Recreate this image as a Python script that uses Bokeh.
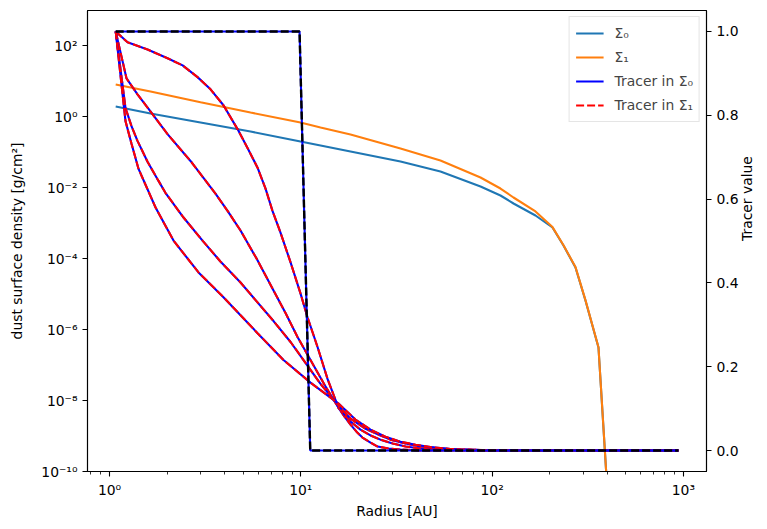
import math
from bokeh.plotting import figure
from bokeh.models import (Range1d, LinearAxis, LinearScale, FixedTicker, CustomJSTickFormatter,
                          PrintfTickFormatter, Legend, LegendItem)
from bokeh.embed import file_html
from bokeh.resources import INLINE

FONT = "DejaVu Sans"
FS = "13.9px"

# Dust surface density profiles [g/cm^2] against radius [AU]
r_sigma = [1.077, 1.638, 2.99, 5.46, 9.96, 12.68, 18.19, 33.2, 53.7, 87.0, 110.6, 129.4,
           168.6, 206.9, 236.2, 272.9, 307.7, 359.9, 411.0]
sigma0 = [1.96, 1.245, 0.695, 0.387, 0.2021, 0.156, 0.1056, 0.0552, 0.0288, 0.01089, 0.006066,
          0.00361, 0.001655, 7.59e-4, 2.36e-4, 5.65e-5, 6.63e-6, 3.13e-7, 3e-12]
sigma1 = [8.19, 5.195, 2.59, 1.329, 0.694, 0.502, 0.3185, 0.128, 0.0589, 0.01953, 0.00955,
          0.00533, 0.00215, 7.8e-4, 2.4e-4, 5.8e-5, 6.8e-6, 3.2e-7, 3e-12]

# Initial tracer: a step at ~10 AU
r_init = [1.077, 9.85, 11.2, 942.0]
t_init = [1.0, 1.0, 0.0, 0.0]

# Tracer snapshots (same values in both dust populations)
r_t1 = [1.077, 1.242, 1.58, 2.01, 2.41, 2.884, 3.373, 3.94, 4.67, 5.265, 5.94, 6.54, 7.11, 7.83,
        8.84, 9.96, 10.84, 12.23, 13.79, 15.74, 16.92, 18.19, 19.55, 21.0, 23.14, 25.2, 28.73,
        33.2, 42.2, 942.0]
t_t1 = [1.0, 0.974, 0.957, 0.936, 0.919, 0.891, 0.862, 0.824, 0.767, 0.722, 0.675, 0.625, 0.572,
        0.520, 0.449, 0.375, 0.318, 0.247, 0.171, 0.102, 0.081, 0.062, 0.045, 0.031, 0.019,
        0.0095, 0.0048, 0.0024, 0.0, 0.0]

r_t2 = [1.077, 1.227, 1.40, 1.60, 2.01, 2.65, 3.58, 4.14, 4.84, 5.87, 7.20, 8.32, 9.61, 11.24,
        13.30, 15.74, 18.19, 20.5, 23.14, 26.1, 30.2, 35.3, 42.2, 53.7, 77.1, 942.0]
t_t2 = [1.0, 0.888, 0.850, 0.815, 0.755, 0.691, 0.613, 0.572, 0.525, 0.458, 0.382, 0.328, 0.271,
        0.216, 0.157, 0.102, 0.069, 0.050, 0.036, 0.026, 0.017, 0.0095, 0.0048, 0.0024, 0.0, 0.0]

r_t3 = [1.077, 1.212, 1.303, 1.40, 1.58, 1.80, 1.96, 2.437, 3.063, 3.80, 4.84, 5.80, 7.20, 8.84,
        10.33, 12.68, 15.74, 18.19, 21.8, 26.1, 29.4, 35.3, 42.2, 53.7, 68.4, 110.6, 942.0]
t_t3 = [1.0, 0.817, 0.774, 0.739, 0.689, 0.644, 0.615, 0.556, 0.501, 0.451, 0.401, 0.359, 0.309,
        0.259, 0.216, 0.159, 0.107, 0.076, 0.052, 0.036, 0.026, 0.017, 0.0095, 0.0048, 0.0024,
        0.0, 0.0]

r_t4 = [1.077, 1.212, 1.303, 1.418, 1.74, 2.16, 2.919, 3.94, 4.84, 5.94, 8.12, 11.24, 15.74,
        19.3, 23.14, 27.7, 33.2, 39.8, 47.6, 60.6, 87.0, 140.8, 942.0]
t_t4 = [1.0, 0.786, 0.732, 0.672, 0.580, 0.501, 0.425, 0.366, 0.323, 0.280, 0.216, 0.162, 0.112,
        0.074, 0.050, 0.033, 0.021, 0.014, 0.0083, 0.0036, 0.0012, 0.0, 0.0]

x_major = [1, 10, 100, 1000]
x_minor = [0.8, 0.9, 2, 3, 4, 5, 6, 7, 8, 9, 20, 30, 40, 50, 60, 70, 80, 90,
           200, 300, 400, 500, 600, 700, 800, 900]
y_major = [1e-10, 1e-8, 1e-6, 1e-4, 1e-2, 1e0, 1e2]
t_ticks = [0.0, 0.2, 0.4, 0.6, 0.8, 1.0]

p = figure(width=767, height=529, x_axis_type="log", y_axis_type="log",
           x_range=Range1d(0.767, 1321), y_range=Range1d(1e-10, 1e3),
           output_backend="svg", toolbar_location=None,
           min_border_left=87, min_border_right=61, min_border_top=10, min_border_bottom=58)
p.extra_y_ranges = {"tracer": Range1d(-0.05, 1.05)}
p.extra_y_scales = {"tracer": LinearScale()}
p.xgrid.visible = False
p.ygrid.visible = False
p.outline_line_color = "black"
p.outline_line_width = 1.1
p.background_fill_color = "white"
p.border_fill_color = "white"

sup_js = """
const e = Math.round(Math.log10(tick));
const sup = {"-": "\u207b", "0": "\u2070", "1": "\u00b9", "2": "\u00b2", "3": "\u00b3",
             "4": "\u2074", "5": "\u2075", "6": "\u2076", "7": "\u2077", "8": "\u2078", "9": "\u2079"};
return "10" + String(e).split("").map(c => sup[c]).join("");
"""

def style_axis(ax):
    ax.axis_line_color = "black"
    ax.axis_line_width = 1.1
    ax.major_tick_line_width = 1.1
    ax.minor_tick_line_width = 0.8
    ax.major_tick_in = 0
    ax.major_tick_out = 5
    ax.minor_tick_in = 0
    ax.minor_tick_out = 3
    ax.major_label_text_font = FONT
    ax.major_label_text_font_size = FS
    ax.major_label_text_color = "black"
    ax.axis_label_text_font = FONT
    ax.axis_label_text_font_size = FS
    ax.axis_label_text_font_style = "normal"
    ax.axis_label_text_color = "black"

xa = p.xaxis[0]
xa.ticker = FixedTicker(ticks=x_major, minor_ticks=x_minor)
xa.formatter = CustomJSTickFormatter(code=sup_js)
xa.axis_label = "Radius [AU]"
xa.axis_label_standoff = 2
style_axis(xa)

ya = p.yaxis[0]
ya.ticker = FixedTicker(ticks=y_major, minor_ticks=[])
ya.formatter = CustomJSTickFormatter(code=sup_js)
ya.axis_label = "dust surface density [g/cm\u00b2]"
ya.axis_label_standoff = 13
style_axis(ya)

ra = LinearAxis(y_range_name="tracer", axis_label="Tracer value",
                ticker=FixedTicker(ticks=t_ticks, minor_ticks=[]),
                formatter=PrintfTickFormatter(format="%.1f"))
style_axis(ra)
ra.axis_label_standoff = 5
ra.axis_label_orientation = math.pi / 2
p.add_layout(ra, "right")

LW = 2.1
DASH = "8 3"

s0 = p.line(r_sigma, sigma0, line_color="#1f77b4", line_width=LW)
s1 = p.line(r_sigma, sigma1, line_color="#ff7f0e", line_width=LW)

blue_r = None
red_r = None
for rr, tt in [(r_t1, t_t1), (r_t2, t_t2), (r_t3, t_t3), (r_t4, t_t4)]:
    b = p.line(rr, tt, y_range_name="tracer", line_color="#0000ff", line_width=LW)
    d = p.line(rr, tt, y_range_name="tracer", line_color="#ff0000", line_width=LW, line_dash=DASH)
    blue_r = blue_r or b
    red_r = red_r or d

p.line(r_init, t_init, y_range_name="tracer", line_color="#0000ff", line_width=LW)
p.line(r_init, t_init, y_range_name="tracer", line_color="black", line_width=LW + 0.3, line_dash=DASH)

legend = Legend(items=[
    LegendItem(label="\u03a3\u2080", renderers=[s0]),
    LegendItem(label="\u03a3\u2081", renderers=[s1]),
    LegendItem(label="Tracer in \u03a3\u2080", renderers=[blue_r]),
    LegendItem(label="Tracer in \u03a3\u2081", renderers=[red_r]),
], location="top_right")
legend.label_text_font = FONT
legend.label_text_font_size = FS
legend.glyph_width = 28
legend.glyph_height = 20
legend.label_height = 20
legend.spacing = 4
legend.padding = 6
legend.margin = 6
legend.label_standoff = 11
legend.border_line_color = "#cccccc"
legend.border_line_width = 1
legend.background_fill_alpha = 0.8
p.add_layout(legend)

open("out.html", "w").write(file_html(p, INLINE))
